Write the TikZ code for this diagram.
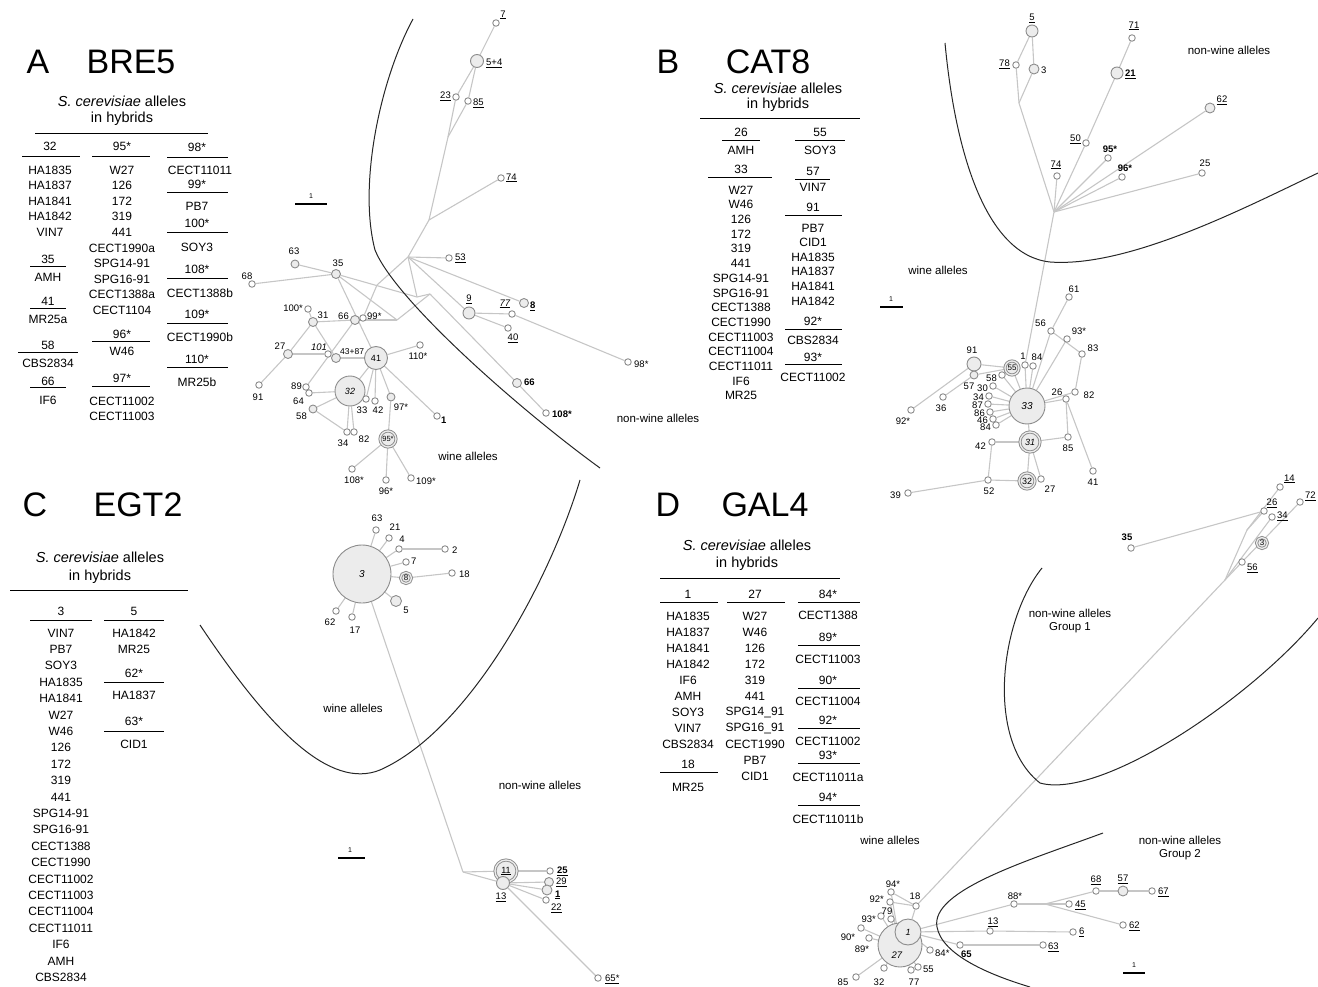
\documentclass[tikz,border=0pt]{standalone}
\usepackage{fontspec}
\setmainfont{Liberation Sans}
\pgfdeclarelayer{bg}
\pgfsetlayers{bg,main}
\begin{document}
\begin{tikzpicture}[x=1pt,y=-1pt,
  tx/.style={font=\fontsize{12}{14}\selectfont, inner sep=0pt},
  hd/.style={font=\fontsize{14.5}{17}\selectfont, inner sep=0pt},
  ttl/.style={font=\fontsize{34}{38}\selectfont, inner sep=0pt},
  lb/.style={font=\fontsize{9.5}{10}\selectfont, inner sep=0pt},
  sl/.style={font=\fontsize{7}{8}\selectfont, inner sep=0pt},
  ar/.style={font=\fontsize{11.5}{13.5}\selectfont, inner sep=0pt, align=center},
  al/.style={circle, draw=gray!90, line width=0.9pt, fill=white, inner sep=0pt, minimum size=#1, font=\fontsize{9}{10}\selectfont},
  al/.default=6.5pt,
  big/.style={al=#1, fill=gray!15},
  dbl/.style={big=#1, double=gray!15, double distance=1.3pt},
  ed/.style={draw=gray!45, line width=1.1pt},
  bd/.style={draw=black!85, line width=1pt},
  rl/.style={draw=black, line width=0.8pt},
  sb/.style={draw=black, line width=1.3pt},
]
\useasboundingbox (0,0) rectangle (1318,987);

%%%%%%%%%%%%%%%% PANEL A tables
\node[ttl] (tA) at (38,62) {A};
\node[ttl] (tAg) at (131,62) {BRE5};
\node[hd] (hA1) at (122,101) {\textit{S. cerevisiae} alleles};
\node[hd] (hA2) at (122,119) {in hybrids};
\draw[rl] (35,133) -- (208,133);
\node[tx] (A32) at (50,146) {32}; \draw[rl] (22,156) -- (80,156);
\foreach \t [count=\i] in {HA1835,HA1837,HA1841,HA1842,VIN7}
  \node[tx] (Aa\i) at (50,{170+15.5*(\i-1)}) {\t};
\node[tx] (A35) at (48,259) {35}; \draw[rl] (30,266) -- (66,266);
\node[tx] (Aamh) at (48,277) {AMH};
\node[tx] (A41) at (48,301) {41}; \draw[rl] (30,308) -- (66,308);
\node[tx] (Amr) at (48,319) {MR25a};
\node[tx] (A58) at (48,345) {58}; \draw[rl] (18,352) -- (78,352);
\node[tx] (Acbs) at (48,363) {CBS2834};
\node[tx] (A66) at (48,381) {66}; \draw[rl] (30,387) -- (66,387);
\node[tx] (Aif) at (48,400) {IF6};
\node[tx] (A95) at (122,146) {95*}; \draw[rl] (92,156) -- (150,156);
\foreach \t [count=\i] in {W27,126,172,319,441,CECT1990a,SPG14-91,SPG16-91,CECT1388a,CECT1104}
  \node[tx] (Ab\i) at (122,{170+15.6*(\i-1)}) {\t};
\node[tx] (A96) at (122,334) {96*}; \draw[rl] (92,341) -- (150,341);
\node[tx] (Aw46) at (122,351) {W46};
\node[tx] (A97) at (122,378) {97*}; \draw[rl] (92,386) -- (150,386);
\node[tx] (Ac02) at (122,401) {CECT11002};
\node[tx] (Ac03) at (122,416) {CECT11003};
\node[tx] (A98) at (197,147) {98*}; \draw[rl] (167,157) -- (228,157);
\node[tx] (Ac11) at (200,170) {CECT11011};
\node[tx] (A99) at (197,184) {99*}; \draw[rl] (167,192) -- (228,192);
\node[tx] (Apb) at (197,206) {PB7};
\node[tx] (A100) at (197,223) {100*}; \draw[rl] (167,232) -- (228,232);
\node[tx] (Asoy) at (197,247) {SOY3};
\node[tx] (A108) at (197,269) {108*}; \draw[rl] (167,278) -- (228,278);
\node[tx] (Ac88) at (200,293) {CECT1388b};
\node[tx] (A109) at (197,314) {109*}; \draw[rl] (167,323) -- (228,323);
\node[tx] (Ac90) at (200,337) {CECT1990b};
\node[tx] (A110) at (197,359) {110*}; \draw[rl] (167,367) -- (228,367);
\node[tx] (Amrb) at (197,382) {MR25b};

%%%%%%%%%%%%%%%% PANEL A network
\draw[bd] (413,19) .. controls (380,80) and (358,185) .. (375,250) .. controls (395,300) and (520,410) .. (600,468);
\draw[sb] (295,204) -- (327,204); \node[sl] (aS) at (311,196) {1};
\node[al] (a7) at (496,23) {};
\node[big=13pt] (a54) at (477,61) {};
\node[al] (a23) at (456,97) {};
\node[al] (a85) at (468,101) {};
\coordinate (aj1) at (448,137);
\node[al] (a74) at (501,178) {};
\coordinate (aj2) at (429,220);
\coordinate (aJ) at (408,257);
\coordinate (aJ2) at (417,297);
\coordinate (aJ3) at (430,294);
\coordinate (aK1) at (377,285);
\coordinate (aK2) at (397,320);
\node[al] (a53) at (449,258) {};
\node[big=8pt] (a63) at (295,264) {};
\node[big=9pt] (a35) at (336,274) {};
\node[al] (a68) at (252,284) {};
\node[al] (a100) at (308,309) {};
\node[big=9pt] (a31) at (313,322) {};
\node[big=9pt] (a66w) at (355,320) {};
\node[al] (a99) at (363,318) {};
\node[big=9pt] (a27) at (288,354) {};
\node[al] (a101) at (328,354) {};
\node[big=9pt] (a4387) at (336,358) {};
\node[big=23pt] (a41) at (376,358) {41};
\node[al] (a110) at (420,345) {};
\node[al] (a91) at (259,385) {};
\node[al] (a89) at (306,387) {};
\node[al] (a64) at (309,393) {};
\node[big=30pt] (a32) at (350,391) {\textit{32}};
\node[al] (a33) at (366,399) {};
\node[al] (a42) at (375,401) {};
\node[big=8pt] (a97) at (391,397) {};
\node[big=8pt] (a58) at (313,409) {};
\node[al] (a1) at (437,416) {};
\node[al] (a34) at (347,432) {};
\node[al] (a82) at (354,432) {};
\node[dbl=16pt, font=\fontsize{7.5}{8}\selectfont] (a95) at (388,439) {95*};
\node[al] (a108w) at (352,469) {};
\node[al] (a96) at (386,480) {};
\node[al] (a109) at (411,478) {};
\node[big=12pt] (a9) at (469,313) {};
\node[al] (a77) at (512,314) {};
\node[big=9pt] (a8) at (524,303) {};
\node[al] (a40) at (508,328) {};
\node[al] (a98) at (628,362) {};
\node[big=9pt] (a66n) at (517,383) {};
\node[al] (a108n) at (546,413) {};
\begin{pgfonlayer}{bg}
\foreach \u/\v in {a7/a54,a54/a23,a54/a85,a23/aj1,a85/aj1,aj1/aj2,aj2/a74,aj2/aJ,aJ/a53,aJ/a8,aJ/a9,aJ/aJ2,aJ2/aJ3,aJ3/a66n,a66n/a108n,a9/a77,a77/a98,a9/a40,aJ/aK1,aK1/a99,a35/aJ2,a68/a35,a63/a35,a35/a41,a35/aK2,a66w/aK2,aK2/aJ3,a31/a66w,a31/a100,a31/a27,a31/a4387,a66w/a89,a27/a101,a101/a4387,a4387/a41,a27/a91,a41/a110,a41/a32,a41/a33,a41/a42,a41/a97,a41/a1,a32/a64,a32/a58,a32/a34,a32/a82,a58/a34,a97/a95,a95/a108w,a95/a96,a95/a109}
  \draw[ed] (\u) -- (\v);
\end{pgfonlayer}
\node[lb] (aL7) at (503,15) {\underline{7}};
\node[lb, anchor=west] (aL54) at (486,63) {\underline{5+4}};
\node[lb, anchor=east] (aL23) at (451,96) {\underline{23}};
\node[lb, anchor=west] (aL85) at (473,103) {\underline{85}};
\node[lb, anchor=west] (aL74) at (506,178) {\underline{74}};
\node[lb, anchor=west] (aL53) at (455,258) {\underline{53}};
\node[lb] (aL63) at (294,251) {63};
\node[lb] (aL35) at (338,263) {35};
\node[lb] (aL68) at (247,276) {68};
\node[lb, anchor=east] (aL100) at (303,308) {100*};
\node[lb] (aL31) at (323,315) {31};
\node[lb, anchor=east] (aL66w) at (349,316) {66};
\node[lb, anchor=west] (aL99) at (367,316) {99*};
\node[lb] (aL27) at (280,346) {27};
\node[lb] (aL101) at (319,347) {\textit{101}};
\node[lb, anchor=west, font=\fontsize{8.5}{9}\selectfont] (aL4387) at (340,352) {43+87};
\node[lb] (aL110) at (418,356) {110*};
\node[lb] (aL91) at (258,397) {91};
\node[lb, anchor=east] (aL89) at (302,386) {89};
\node[lb, anchor=east] (aL64) at (304,401) {64};
\node[lb] (aL33) at (362,410) {33};
\node[lb] (aL42) at (378,410) {42};
\node[lb] (aL97) at (401,407) {97*};
\node[lb, anchor=east] (aL58) at (307,416) {58};
\node[lb, anchor=west] (aL1) at (441,420) {\textbf{1}};
\node[lb] (aL34) at (343,443) {34};
\node[lb] (aL82) at (364,439) {82};
\node[lb] (aL108w) at (354,480) {108*};
\node[lb] (aL96) at (386,491) {96*};
\node[lb, anchor=west] (aL109) at (416,481) {109*};
\node[lb] (aL9) at (469,299) {\underline{9}};
\node[lb] (aL77) at (505,304) {\underline{\textit{77}}};
\node[lb, anchor=west] (aL8) at (530,306) {\textbf{\underline{8}}};
\node[lb] (aL40) at (513,338) {\underline{40}};
\node[lb, anchor=west] (aL98) at (634,364) {98*};
\node[lb, anchor=west] (aL66n) at (524,382) {\textbf{66}};
\node[lb, anchor=west] (aL108n) at (552,414) {\textbf{108*}};
\node[ar] (aW) at (468,456) {wine alleles};
\node[ar] (aN) at (658,418) {non-wine alleles};

%%%%%%%%%%%%%%%% PANEL B tables
\node[ttl] (tB) at (668,62) {B};
\node[ttl] (tBg) at (768,62) {CAT8};
\node[hd] (hB1) at (778,88) {\textit{S. cerevisiae} alleles};
\node[hd] (hB2) at (778,105) {in hybrids};
\draw[rl] (700,118) -- (860,118);
\node[tx] (B26) at (741,132) {26}; \draw[rl] (722,140) -- (760,140);
\node[tx] (Bamh) at (741,150) {AMH};
\node[tx] (B33) at (741,169) {33}; \draw[rl] (708,177) -- (772,177);
\foreach \t [count=\i] in {W27,W46,126,172,319,441,SPG14-91,SPG16-91,CECT1388,CECT1990,CECT11003,CECT11004,CECT11011,IF6,MR25}
  \node[tx] (Ba\i) at (741,{190+14.7*(\i-1)}) {\t};
\node[tx] (B55) at (820,132) {55}; \draw[rl] (795,140) -- (845,140);
\node[tx] (Bsoy) at (820,150) {SOY3};
\node[tx] (B57) at (813,171) {57}; \draw[rl] (795,179) -- (830,179);
\node[tx] (Bvin) at (813,187) {VIN7};
\node[tx] (B91) at (813,207) {91}; \draw[rl] (785,215) -- (842,215);
\foreach \t [count=\i] in {PB7,CID1,HA1835,HA1837,HA1841,HA1842}
  \node[tx] (Bb\i) at (813,{228+14.6*(\i-1)}) {\t};
\node[tx] (B92) at (813,321) {92*}; \draw[rl] (785,329) -- (842,329);
\node[tx] (Bcbs) at (813,340) {CBS2834};
\node[tx] (B93) at (813,357) {93*}; \draw[rl] (785,364) -- (842,364);
\node[tx] (Bc02) at (813,377) {CECT11002};

%%%%%%%%%%%%%%%% PANEL B network
\draw[bd] (945,43) .. controls (955,150) and (985,255) .. (1050,262) .. controls (1130,268) and (1250,205) .. (1318,173);
\draw[sb] (880,307) -- (903,307); \node[sl] (bS) at (891,299) {1};
\node[big=12pt] (b5) at (1032,31) {};
\node[al] (b78) at (1016,65) {};
\node[big=10pt] (b3) at (1034,69) {};
\coordinate (bj1) at (1019,103);
\node[big=12pt] (b21) at (1117,73) {};
\node[al] (b71) at (1132,38) {};
\node[al] (b50) at (1086,143) {};
\node[al] (b95) at (1108,158) {};
\node[al] (b74) at (1057,176) {};
\node[al] (b96) at (1122,177) {};
\coordinate (bH) at (1054,212);
\node[big=10pt] (b62) at (1210,108) {};
\node[al] (b25) at (1202,173) {};
\node[al] (b61) at (1069,297) {};
\node[al] (b56) at (1051,331) {};
\node[al] (b93) at (1067,339) {};
\node[al] (b83) at (1082,354) {};
\node[al] (b82) at (1075,392) {};
\node[big=14pt] (b91) at (974,364) {};
\node[big=8pt] (b57) at (974,375) {};
\node[dbl=14pt, font=\fontsize{8}{9}\selectfont] (b55) at (1012,368) {55};
\node[al] (b1) at (1025,365) {};
\node[al] (b84t) at (1033,366) {};
\node[al] (b58) at (1002,375) {};
\node[al] (b30) at (993,386) {};
\node[al] (b34) at (989,396) {};
\node[al] (b87) at (988,404) {};
\node[al] (b86) at (990,412) {};
\node[al] (b46) at (993,419) {};
\node[al] (b84b) at (996,425) {};
\node[big=36pt, font=\fontsize{10}{11}\selectfont] (b33) at (1027,406) {\textit{33}};
\node[al] (b26) at (1066,399) {};
\node[al] (b36) at (943,397) {};
\node[al] (b92) at (911,410) {};
\node[dbl=20pt] (b31) at (1030,442) {\textit{31}};
\node[al] (b42) at (992,442) {};
\node[al] (b85) at (1068,437) {};
\node[al] (b41) at (1093,471) {};
\node[al] (b52) at (988,480) {};
\node[dbl=16pt] (b32) at (1027,481) {32};
\node[al] (b27) at (1041,479) {};
\node[al] (b39) at (908,493) {};
\begin{pgfonlayer}{bg}
\foreach \u/\v in {b5/b78,b5/b3,b78/bj1,b3/bj1,bj1/bH,bH/b74,bH/b50,b50/b21,b21/b71,bH/b95,bH/b96,bH/b62,bH/b25,bH/b1,b33/b1,b33/b84t,b33/b55,b33/b58,b33/b30,b33/b34,b33/b87,b33/b86,b33/b46,b33/b84b,b55/b91,b55/b57,b91/b92,b57/b36,b33/b56,b56/b61,b56/b83,b33/b93,b83/b82,b33/b82,b33/b26,b26/b85,b26/b41,b33/b31,b31/b42,b31/b85,b31/b32,b31/b27,b42/b52,b52/b32,b52/b39}
  \draw[ed] (\u) -- (\v);
\end{pgfonlayer}
\node[lb] (bL5) at (1032,18) {\underline{5}};
\node[lb, anchor=east] (bL78) at (1010,64) {\underline{78}};
\node[lb, anchor=west] (bL3) at (1041,70) {3};
\node[lb, anchor=west] (bL21) at (1125,74) {\textbf{\underline{21}}};
\node[lb] (bL71) at (1134,26) {\underline{71}};
\node[lb, anchor=east] (bL50) at (1081,139) {\underline{50}};
\node[lb] (bL95) at (1110,149) {\textbf{95*}};
\node[lb] (bL74) at (1056,165) {\underline{74}};
\node[lb] (bL96) at (1125,168) {\textbf{96*}};
\node[lb] (bL62) at (1222,100) {\underline{62}};
\node[lb] (bL25) at (1205,163) {25};
\node[lb] (bL61) at (1074,289) {61};
\node[lb, anchor=east] (bL56) at (1046,323) {56};
\node[lb] (bL93) at (1079,331) {93*};
\node[lb] (bL83) at (1093,348) {83};
\node[lb] (bL82) at (1089,395) {82};
\node[lb] (bL91) at (972,350) {91};
\node[lb] (bL57) at (969,386) {57};
\node[lb] (bL1) at (1023,356) {1};
\node[lb] (bL84t) at (1037,357) {84};
\node[lb, anchor=east] (bL58) at (997,378) {58};
\node[lb, anchor=east] (bL30) at (988,388) {30};
\node[lb, anchor=east] (bL34) at (984,397) {34};
\node[lb, anchor=east] (bL87) at (983,405) {87};
\node[lb, anchor=east] (bL86) at (985,413) {86};
\node[lb, anchor=east] (bL46) at (988,420) {46};
\node[lb, anchor=east] (bL84b) at (991,427) {84};
\node[lb] (bL26) at (1057,392) {26};
\node[lb] (bL36) at (941,408) {36};
\node[lb] (bL92) at (903,421) {92*};
\node[lb, anchor=east] (bL42) at (986,446) {42};
\node[lb] (bL85) at (1068,448) {85};
\node[lb] (bL41) at (1093,482) {41};
\node[lb] (bL52) at (989,491) {52};
\node[lb] (bL27) at (1050,489) {27};
\node[lb, anchor=east] (bL39) at (901,495) {39};
\node[ar] (bW) at (938,270) {wine alleles};
\node[ar] (bN) at (1229,50) {non-wine alleles};

%%%%%%%%%%%%%%%% PANEL C tables
\node[ttl] (tC) at (35,505) {C};
\node[ttl] (tCg) at (138,505) {EGT2};
\node[hd] (hC1) at (100,557) {\textit{S. cerevisiae} alleles};
\node[hd] (hC2) at (100,577) {in hybrids};
\draw[rl] (10,590) -- (188,590);
\node[tx] (C3) at (61,611) {3}; \draw[rl] (30,620) -- (92,620);
\foreach \t [count=\i] in {VIN7,PB7,SOY3,HA1835,HA1841,W27,W46,126,172,319,441,SPG14-91,SPG16-91,CECT1388,CECT1990,CECT11002,CECT11003,CECT11004,CECT11011,IF6,AMH,CBS2834}
  \node[tx] (Ca\i) at (61,{633+16.4*(\i-1)}) {\t};
\node[tx] (C5) at (134,611) {5}; \draw[rl] (104,620) -- (164,620);
\node[tx] (Chb) at (134,633) {HA1842};
\node[tx] (Cmr) at (134,649) {MR25};
\node[tx] (C62) at (134,673) {62*}; \draw[rl] (104,682) -- (164,682);
\node[tx] (Cha) at (134,695) {HA1837};
\node[tx] (C63) at (134,721) {63*}; \draw[rl] (104,731) -- (164,731);
\node[tx] (Ccid) at (134,744) {CID1};

%%%%%%%%%%%%%%%% PANEL C network
\draw[bd] (200,625) .. controls (270,730) and (330,790) .. (380,770) .. controls (470,730) and (550,580) .. (580,480);
\draw[sb] (338,858) -- (365,858); \node[sl] (cS) at (350,850) {1};
\node[big=58pt, font=\fontsize{10}{11}\selectfont] (c3) at (362,574) {\textit{3}};
\node[al] (c63) at (376,530) {};
\node[al] (c21) at (389,538) {};
\node[al] (c4) at (399,549) {};
\node[al] (c2) at (445,549) {};
\node[al] (c7) at (406,562) {};
\node[dbl=11pt, font=\fontsize{8}{9}\selectfont] (c8) at (406,578) {8};
\node[al] (c18) at (452,573) {};
\node[big=11pt] (c5) at (396,601) {};
\node[al] (c62) at (336,611) {};
\node[al] (c17) at (352,617) {};
\coordinate (cj) at (463,872);
\node[dbl=22pt] (c11) at (506,871) {\underline{11}};
\node[big=13pt] (c13) at (503,883) {};
\node[al] (c25) at (550,871) {};
\node[big=9pt] (c29) at (549,882) {};
\node[big=10pt] (c1) at (547,890) {};
\node[al] (c22) at (546,900) {};
\node[al] (c65) at (598,978) {};
\begin{pgfonlayer}{bg}
\foreach \u/\v in {c3/cj,cj/c11,cj/c13,c11/c25,c13/c29,c13/c1,c13/c22,c13/c65,c63/c3,c21/c3,c4/c3,c4/c2,c7/c3,c8/c3,c8/c18,c5/c3,c62/c3,c17/c3}
  \draw[ed] (\u) -- (\v);
\end{pgfonlayer}
\node[lb] (cL63) at (377,518) {63};
\node[lb] (cL21) at (395,527) {21};
\node[lb] (cL4) at (402,539) {4};
\node[lb, anchor=west] (cL2) at (452,550) {2};
\node[lb, anchor=west] (cL7) at (411,561) {7};
\node[lb, anchor=west] (cL18) at (459,574) {18};
\node[lb] (cL5) at (406,610) {5};
\node[lb] (cL62) at (330,622) {62};
\node[lb] (cL17) at (355,630) {17};
\node[lb] (cL13) at (501,897) {\underline{13}};
\node[lb, anchor=west] (cL25) at (557,871) {\textbf{\underline{25}}};
\node[lb, anchor=west] (cL29) at (556,882) {\underline{29}};
\node[lb, anchor=west] (cL1) at (555,895) {\textbf{\underline{1}}};
\node[lb, anchor=west] (cL22) at (551,908) {\underline{22}};
\node[lb, anchor=west] (cL65) at (605,979) {\underline{65*}};
\node[ar] (cW) at (353,708) {wine alleles};
\node[ar] (cN) at (540,785) {non-wine alleles};

%%%%%%%%%%%%%%%% PANEL D tables
\node[ttl] (tD) at (668,505) {D};
\node[ttl] (tDg) at (765,505) {GAL4};
\node[hd] (hD1) at (747,545) {\textit{S. cerevisiae} alleles};
\node[hd] (hD2) at (747,564) {in hybrids};
\draw[rl] (660,578) -- (840,578);
\node[tx] (D1) at (688,594) {1}; \draw[rl] (660,602) -- (718,602);
\foreach \t [count=\i] in {HA1835,HA1837,HA1841,HA1842,IF6,AMH,SOY3,VIN7,CBS2834}
  \node[tx] (Da\i) at (688,{616+16*(\i-1)}) {\t};
\node[tx] (D18) at (688,764) {18}; \draw[rl] (660,772) -- (718,772);
\node[tx] (Dmr) at (688,787) {MR25};
\node[tx] (D27) at (755,594) {27}; \draw[rl] (727,602) -- (785,602);
\foreach \t [count=\i] in {W27,W46,126,172,319,441,SPG14\_91,SPG16\_91,CECT1990,PB7,CID1}
  \node[tx] (Db\i) at (755,{616+16*(\i-1)}) {\t};
\node[tx] (D84) at (828,594) {84*}; \draw[rl] (798,602) -- (860,602);
\node[tx] (Dc1) at (828,615) {CECT1388};
\node[tx] (D89) at (828,637) {89*}; \draw[rl] (798,645) -- (860,645);
\node[tx] (Dc2) at (828,659) {CECT11003};
\node[tx] (D90) at (828,680) {90*}; \draw[rl] (798,688) -- (860,688);
\node[tx] (Dc3) at (828,701) {CECT11004};
\node[tx] (D92) at (828,720) {92*}; \draw[rl] (798,728) -- (860,728);
\node[tx] (Dc4) at (828,741) {CECT11002};
\node[tx] (D93) at (828,755) {93*}; \draw[rl] (798,763) -- (860,763);
\node[tx] (Dc5) at (828,777) {CECT11011a};
\node[tx] (D94) at (828,797) {94*}; \draw[rl] (798,805) -- (860,805);
\node[tx] (Dc6) at (828,819) {CECT11011b};

%%%%%%%%%%%%%%%% PANEL D network
\draw[bd] (1042,568) .. controls (1000,620) and (985,740) .. (1040,783) .. controls (1100,800) and (1250,700) .. (1318,618);
\draw[bd] (1103,833) .. controls (1030,860) and (930,890) .. (937,927) .. controls (942,955) and (990,975) .. (1030,987);
\draw[sb] (1123,973) -- (1145,973); \node[sl] (dS) at (1134,965) {1};
\node[big=44pt] (d27) at (900,945) {};
\node[big=26pt] (d1) at (908,932) {\textit{1}};
\node[lb] (dL27) at (897,955) {\textit{27}};
\node[al] (d94) at (891,892) {};
\node[al] (d18) at (916,906) {};
\node[al] (d92) at (890,902) {};
\node[al] (d79) at (891,919) {};
\node[al] (d93) at (881,916) {};
\node[al] (d90) at (861,928) {};
\node[al] (d89) at (869,938) {};
\node[al] (d84) at (930,950) {};
\node[al] (d65) at (960,945) {};
\node[al] (d88) at (1014,904) {};
\node[al] (d13) at (990,931) {};
\node[al] (d55) at (918,967) {};
\node[al] (d77) at (911,970) {};
\node[al] (d32) at (884,968) {};
\node[al] (d85) at (856,977) {};
\coordinate (dj) at (1045,904);
\node[al] (d45) at (1069,904) {};
\node[al] (d68) at (1096,891) {};
\node[big=10pt] (d57) at (1123,891) {};
\node[al] (d67) at (1152,891) {};
\node[al] (d62) at (1123,925) {};
\node[al] (d6) at (1073,932) {};
\node[al] (d63) at (1043,945) {};
\coordinate (dP) at (1225,580);
\coordinate (dQ) at (1247,530);
\node[al] (d14) at (1280,487) {};
\node[al] (d72) at (1300,502) {};
\node[al] (d26) at (1264,511) {};
\node[al] (d34) at (1272,517) {};
\node[dbl=11pt, font=\fontsize{8}{9}\selectfont] (d3) at (1262,543) {3};
\node[al] (d56) at (1242,562) {};
\node[al] (d35) at (1131,548) {};
\begin{pgfonlayer}{bg}
\foreach \u/\v in {d18/dP,d1/d18,d1/d88,d88/dj,dj/d45,dj/d68,d68/d57,d57/d67,dj/d62,d1/d13,d13/d6,d1/d65,d65/d63,d1/d84,d27/d94,d27/d92,d27/d79,d27/d93,d27/d90,d27/d89,d27/d85,d27/d32,d27/d77,d27/d55,d92/d18,d94/d18,dP/dQ,dQ/d14,dQ/d26,d26/d35,dP/d34,dP/d56,d56/d72}
  \draw[ed] (\u) -- (\v);
\end{pgfonlayer}
\node[lb] (dL94) at (893,884) {94*};
\node[lb] (dL18) at (915,896) {18};
\node[lb, anchor=east] (dL92) at (884,899) {92*};
\node[lb] (dL79) at (887,911) {79};
\node[lb, anchor=east] (dL93) at (876,919) {93*};
\node[lb] (dL90) at (848,937) {90*};
\node[lb] (dL89) at (862,949) {89*};
\node[lb, anchor=west] (dL84) at (935,953) {84*};
\node[lb, anchor=west] (dL65) at (961,954) {\textbf{65}};
\node[lb] (dL88) at (1015,896) {88*};
\node[lb] (dL13) at (993,922) {\underline{13}};
\node[lb, anchor=west] (dL55) at (923,969) {55};
\node[lb] (dL77) at (914,982) {77};
\node[lb] (dL32) at (879,982) {32};
\node[lb] (dL85) at (843,982) {85};
\node[lb, anchor=west] (dL45) at (1075,905) {\underline{45}};
\node[lb] (dL68) at (1096,880) {\underline{68}};
\node[lb] (dL57) at (1123,879) {\underline{57}};
\node[lb, anchor=west] (dL67) at (1158,892) {\underline{67}};
\node[lb, anchor=west] (dL62) at (1129,926) {\underline{62}};
\node[lb, anchor=west] (dL6) at (1079,932) {\underline{6}};
\node[lb, anchor=west] (dL63) at (1048,947) {\underline{63}};
\node[lb, anchor=west] (dL14) at (1284,479) {\underline{14}};
\node[lb, anchor=west] (dL72) at (1305,496) {\underline{72}};
\node[lb] (dL26) at (1272,503) {\underline{26}};
\node[lb, anchor=west] (dL34) at (1277,516) {\underline{34}};
\node[lb, anchor=west] (dL56) at (1247,568) {\underline{56}};
\node[lb] (dL35) at (1127,537) {\textbf{35}};
\node[ar] (dW) at (890,840) {wine alleles};
\node[ar] (dN1) at (1070,621) {non-wine alleles\\Group 1};
\node[ar] (dN2) at (1180,848) {non-wine alleles\\Group 2};
\end{tikzpicture}
\end{document}
